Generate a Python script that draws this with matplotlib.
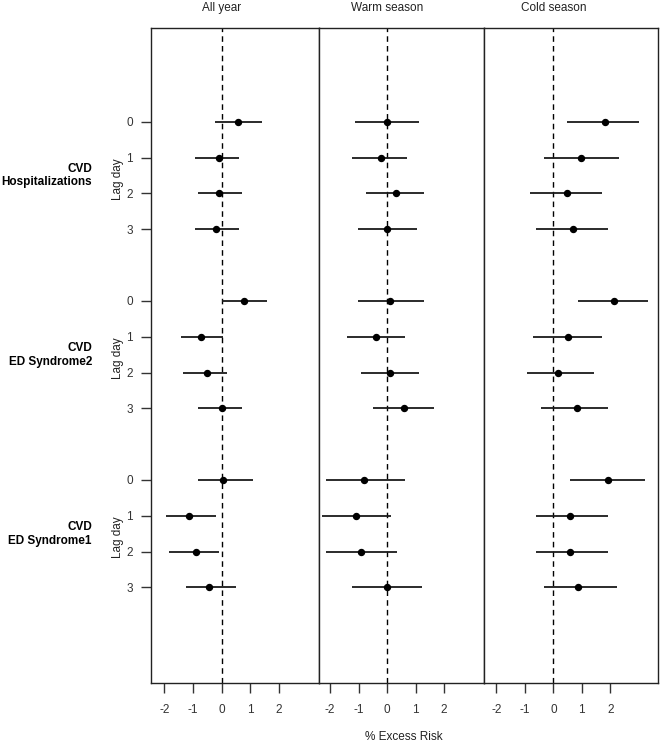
import matplotlib
matplotlib.use("Agg")
import matplotlib.pyplot as plt

plt.rcParams['font.family'] = ['Liberation Sans', 'DejaVu Sans']

seasons = ["All year", "Warm season", "Cold season"]
outcomes = ["CVD\nHospitalizations", "CVD\nED Syndrome2", "CVD\nED Syndrome1"]
lags = ["0", "1", "2", "3"]

# estimates / lower / upper per season, ordered: Hospitalizations lags 0-3, ED Syndrome2 lags 0-3, ED Syndrome1 lags 0-3
allyear_est = [0.58, -0.10, -0.10, -0.21, 0.77, -0.71, -0.52, 0.00, 0.06, -1.13, -0.91, -0.43]
allyear_lo = [-0.23, -0.93, -0.82, -0.93, 0.00, -1.42, -1.35, -0.82, -0.82, -1.95, -1.84, -1.25]
allyear_hi = [1.42, 0.62, 0.71, 0.62, 1.58, 0.06, 0.19, 0.71, 1.11, -0.20, -0.10, 0.50]

warm_est = [0.00, -0.22, 0.32, 0.00, 0.11, -0.39, 0.11, 0.60, -0.81, -1.09, -0.92, 0.00]
warm_lo = [-1.11, -1.22, -0.73, -1.01, -1.01, -1.41, -0.92, -0.50, -2.13, -2.30, -2.13, -1.22]
warm_hi = [1.13, 0.71, 1.31, 1.04, 1.31, 0.62, 1.13, 1.64, 0.62, 0.12, 0.33, 1.22]

cold_est = [1.80, 0.98, 0.49, 0.70, 2.12, 0.50, 0.18, 0.82, 1.91, 0.60, 0.60, 0.88]
cold_lo = [0.48, -0.33, -0.82, -0.61, 0.88, -0.71, -0.92, -0.43, 0.59, -0.61, -0.61, -0.33]
cold_hi = [3.01, 2.31, 1.71, 1.92, 3.32, 1.71, 1.43, 1.92, 3.22, 1.92, 1.92, 2.24]

x_ticks = [-2, -1, 0, 1, 2]
x_limits = [(-2.47, 3.40), (-2.39, 3.40), (-2.43, 3.67)]

data = [(allyear_est, allyear_lo, allyear_hi),
        (warm_est, warm_lo, warm_hi),
        (cold_est, cold_lo, cold_hi)]

# y positions: groups of 4 lags separated by a gap of one row
ypos = []
for g in range(len(outcomes)):
    for l in range(len(lags)):
        ypos.append(g * 5 + l)

W, H = 661, 744
fig = plt.figure(figsize=(W / 100, H / 100), dpi=100)
edges = [151, 319, 484, 658]
top_px, bot_px = 28, 683
axes = []
for i in range(3):
    ax = fig.add_axes([edges[i] / W, 1 - bot_px / H, (edges[i + 1] - edges[i]) / W, (bot_px - top_px) / H])
    axes.append(ax)

tick_color = '#333333'
for i, ax in enumerate(axes):
    est, lo, hi = data[i]
    ax.axvline(0, color='black', lw=1.0, ls=(0, (4, 3)), zorder=1)
    ax.hlines(ypos, lo, hi, color='#1a1a1a', lw=1.3, zorder=2)
    ax.plot(est, ypos, 'o', color='black', ms=4.3, zorder=3)
    ax.set_xlim(*x_limits[i])
    ax.set_ylim(15.67, -2.62)
    ax.set_xticks(x_ticks)
    ax.set_xticklabels([str(t) for t in x_ticks])
    ax.tick_params(axis='x', length=7, width=1, color='#333333', labelsize=8.5,
                   labelcolor=tick_color, pad=8)
    for s in ax.spines.values():
        s.set_linewidth(1.0)
        s.set_color('#222222')
    ax.text(0, -2.62 - 0.55, seasons[i], ha='center', va='center', fontsize=8.5,
            color='#222222', clip_on=False)
    if i == 0:
        ax.set_yticks(ypos)
        ax.set_yticklabels([lags[k % 4] for k in range(len(ypos))])
        ax.tick_params(axis='y', length=7, width=1, color='#333333', labelsize=8.5,
                       labelcolor=tick_color, pad=6)
    else:
        ax.set_yticks([])

# group labels and "Lag day"
ax0 = axes[0]
for g, name in enumerate(outcomes):
    yc = g * 5 + 1.5
    ax0.annotate(name, xy=(92 / W, yc), xycoords=('figure fraction', 'data'),
                 ha='right', va='center', fontsize=8.5, fontweight='bold',
                 multialignment='right', annotation_clip=False)
    ax0.annotate("Lag day", xy=(118 / W, yc + 0.1), xycoords=('figure fraction', 'data'),
                 ha='center', va='center', rotation=90, fontsize=8.5,
                 color='#222222', annotation_clip=False)

fig.text(404 / W, 1 - 737 / H, "% Excess Risk", ha='center', va='center', fontsize=8.5, color='#222222')

fig.savefig("out.png", dpi=100)
